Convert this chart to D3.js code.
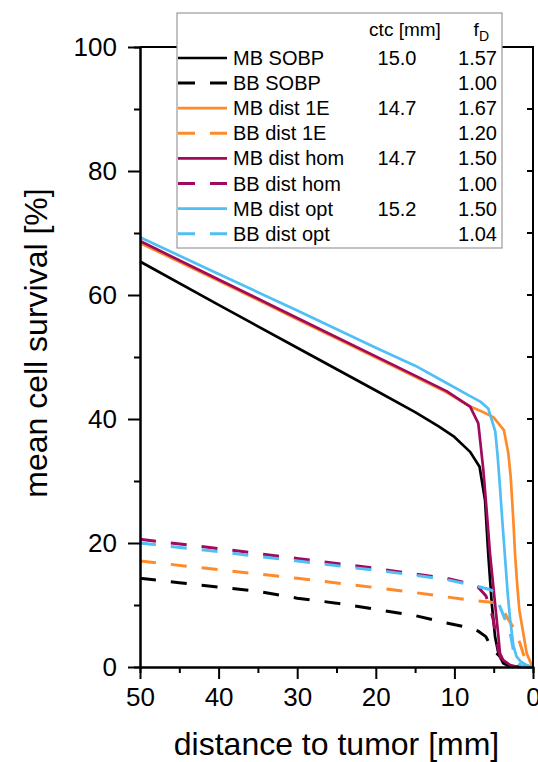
<!DOCTYPE html>
<html>
<head>
<meta charset="utf-8">
<script src="https://cdn.jsdelivr.net/npm/d3@7"></script>
<style>
  body { margin: 0; background: #fff; }
  text { font-family: "Liberation Sans", Arial, sans-serif; fill: #000; }
</style>
</head>
<body>
<svg id="chart"></svg>
<script>
const WIDTH = 538;
const HEIGHT = 762;

// plot frame in px
const LEFT = 140;
const RIGHT = 533;
const TOP = 47;
const BOTTOM = 667;

const FONT = "Liberation Sans, Arial, sans-serif";

// legend table
const seriesNames = [
  "MB SOBP", "BB SOBP", "MB dist 1E", "BB dist 1E",
  "MB dist hom", "BB dist hom", "MB dist opt", "BB dist opt"
];
const ctcValues = ["15.0", "", "14.7", "", "14.7", "", "15.2", ""];
const fdValues = ["1.57", "1.00", "1.67", "1.20", "1.50", "1.00", "1.50", "1.04"];
const seriesColors = [
  "#000000", "#000000", "#ff8a2a", "#ff8a2a",
  "#a0095c", "#a0095c", "#4fbff5", "#4fbff5"
];
const seriesDashed = [false, true, false, true, false, true, false, true];

// axis ticks
const xMajorTicks = [50, 40, 30, 20, 10, 0];
const xMinorTicks = [45, 35, 25, 15, 5];
const yMajorTicks = [0, 20, 40, 60, 80, 100];
const yMinorTicks = [10, 30, 50, 70, 90];
const yRightTicks = [10, 20, 30, 40, 50, 60, 70, 80, 90];

// [distance to tumor mm, mean cell survival %]
const mbSobp = [
  [50, 65.4], [40, 58.4], [30, 51.5], [20, 44.6], [15, 41.1], [12, 38.8],
  [10, 37.1], [8, 34.7], [6.8, 32.3], [6.1, 26.9], [5.7, 18.3], [5.25, 10.3],
  [4.83, 4.9], [4.4, 2.2], [3.8, 0.6], [3, 0.1], [0, 0]
];
const bbSobp = [
  [50, 14.3], [45, 13.6], [40, 12.9], [35, 12.2], [30, 11.1], [25, 10.3],
  [20, 9.3], [15, 8.3], [11, 7.1], [8, 6.3], [7, 5.8], [6, 4.9], [5.3, 3.2],
  [4.7, 2.3], [4.2, 1.7], [3.6, 0.7], [3, 0.1], [2.5, 0]
];
const mbDist1E = [
  [50, 68.4], [40, 62.3], [30, 56.1], [20, 49.9], [15, 46.8], [11, 44.3],
  [8, 42.0], [6.5, 41.2], [5.05, 40.3], [3.7, 38.2], [3.14, 34.5], [2.84, 30.7],
  [2.5, 23.7], [2.29, 18.3], [1.99, 13], [1.74, 9.2], [1.31, 6.0], [0.8, 2.2],
  [0.17, 0.3], [0, 0]
];
const bbDist1E = [
  [50, 17.1], [40, 15.7], [30, 14.3], [20, 12.8], [15, 12.0], [11, 11.3],
  [8, 10.8], [5, 10.4], [4.2, 9.8], [3.6, 8.7], [3, 7.4], [2.5, 6.4],
  [2.0, 4.9], [1.65, 3.8], [1.2, 2.0], [0.8, 0.6], [0.4, 0]
];
const mbDistHom = [
  [50, 68.7], [40, 62.5], [30, 56.3], [20, 50.1], [15, 47.0], [11, 44.5],
  [8, 42.0], [6.96, 39.3], [6.32, 31.8], [5.9, 25.3], [5.47, 18.3], [5.05, 13],
  [4.4, 4.9], [4.2, 2.2], [3.8, 1.1], [2.9, 0.3], [1.9, 0], [0, 0]
];
const bbDistHom = [
  [50, 20.6], [40, 19.1], [30, 17.5], [20, 15.9], [15, 15.0], [11, 14.3],
  [8, 13.4], [7, 12.9], [6, 11.5], [5.5, 9.8], [5.05, 7.6], [4.7, 5.0],
  [4.4, 2.7], [4, 1.0], [3.5, 0.2], [3, 0]
];
const mbDistOpt = [
  [50, 69.3], [40, 63.4], [30, 57.5], [20, 51.5], [15, 48.6], [11, 45.8],
  [8, 43.7], [6.7, 42.8], [5.7, 41.7], [4.8, 38.0], [4.5, 34], [4.2, 29],
  [3.9, 23.5], [3.6, 18.4], [3.2, 11.5], [2.9, 7.6], [2.5, 3.5], [2.1, 1.7],
  [1.5, 0.8], [0.8, 0.3], [0, 0]
];
const bbDistOpt = [
  [50, 20.0], [40, 18.6], [30, 17.1], [20, 15.6], [15, 14.8], [11, 14.1],
  [7, 13.0], [5.5, 12.5], [5.05, 12.2], [4.6, 11.0], [4.2, 9.7], [3.6, 7.8],
  [3.1, 6.5], [2.8, 4.8], [2.5, 2.7], [1.9, 0.6], [1.2, 0], [0, 0]
];

const seriesData = [
  mbSobp, bbSobp, mbDist1E, bbDist1E, mbDistHom, bbDistHom, mbDistOpt, bbDistOpt
];

const svg = d3.select("#chart").attr("width", WIDTH).attr("height", HEIGHT);

const x = d3.scaleLinear().domain([50, 0]).range([LEFT, RIGHT]);
const y = d3.scaleLinear().domain([0, 100]).range([BOTTOM, TOP]);

const line = d3.line()
  .x((d) => x(d[0]))
  .y((d) => y(d[1]));

// curves
svg.append("g")
  .selectAll("path")
  .data(seriesData)
  .enter()
  .append("path")
  .attr("d", line)
  .attr("fill", "none")
  .attr("stroke", (d, i) => seriesColors[i])
  .attr("stroke-width", (d, i) => (seriesDashed[i] ? 3 : 2.7))
  .attr("stroke-dasharray", (d, i) => (seriesDashed[i] ? "16,15" : null))
  .attr("stroke-linejoin", "round");

// frame: top and right
svg.append("path")
  .attr("d", `M${LEFT},${TOP}H${RIGHT}V${BOTTOM}`)
  .attr("fill", "none")
  .attr("stroke", "#000")
  .attr("stroke-width", 2);

// right side ticks point inward
svg.append("g")
  .selectAll("line")
  .data(yRightTicks)
  .enter()
  .append("line")
  .attr("x1", RIGHT)
  .attr("x2", RIGHT - 6)
  .attr("y1", (d) => y(d))
  .attr("y2", (d) => y(d))
  .attr("stroke", "#000")
  .attr("stroke-width", 2);

const styleAxis = (g) => {
  g.select(".domain").attr("stroke-width", 2);
  g.selectAll(".tick line").attr("stroke-width", 2);
  g.selectAll("text")
    .attr("font-family", FONT)
    .attr("font-size", 26)
    .attr("fill", "#000");
};

// left axis
svg.append("g")
  .attr("transform", `translate(${LEFT},0)`)
  .call(d3.axisLeft(y).tickValues(yMinorTicks).tickSize(6).tickFormat(""))
  .call(styleAxis);
svg.append("g")
  .attr("transform", `translate(${LEFT},0)`)
  .call(d3.axisLeft(y).tickValues(yMajorTicks).tickSize(12).tickPadding(11).tickSizeOuter(0))
  .call(styleAxis);

// bottom axis
svg.append("g")
  .attr("transform", `translate(0,${BOTTOM})`)
  .call(d3.axisBottom(x).tickValues(xMinorTicks).tickSize(6).tickFormat(""))
  .call(styleAxis);
svg.append("g")
  .attr("transform", `translate(0,${BOTTOM})`)
  .call(d3.axisBottom(x).tickValues(xMajorTicks).tickSize(12).tickPadding(9).tickSizeOuter(0))
  .call(styleAxis);

// axis titles
svg.append("text")
  .attr("x", (LEFT + RIGHT) / 2)
  .attr("y", 755)
  .attr("text-anchor", "middle")
  .attr("font-size", 32)
  .text("distance to tumor [mm]");

svg.append("text")
  .attr("transform", "translate(47,343) rotate(-90)")
  .attr("text-anchor", "middle")
  .attr("font-size", 32)
  .text("mean cell survival [%]");

// legend
const legend = svg.append("g").attr("id", "legend");
const legX = 177;
const legY = 13;
const rowStart = 58;
const rowStep = 25.1;

legend.append("rect")
  .attr("x", legX)
  .attr("y", legY)
  .attr("width", 325)
  .attr("height", 235)
  .attr("fill", "#fff")
  .attr("stroke", "#9a9a9a")
  .attr("stroke-width", 1.2);

legend.append("text")
  .attr("x", 405)
  .attr("y", 36)
  .attr("text-anchor", "middle")
  .attr("font-size", 19)
  .text("ctc [mm]");

const fd = legend.append("text")
  .attr("x", 489)
  .attr("y", 36)
  .attr("text-anchor", "end")
  .attr("font-size", 19);
fd.append("tspan").text("f");
fd.append("tspan").attr("dy", 5).attr("font-size", 14).text("D");

const rows = legend.selectAll(".row")
  .data(seriesNames)
  .enter()
  .append("g")
  .attr("class", "row")
  .attr("transform", (d, i) => `translate(0,${rowStart + i * rowStep})`);

rows.append("line")
  .attr("x1", 178)
  .attr("x2", 227)
  .attr("stroke", (d, i) => seriesColors[i])
  .attr("stroke-width", (d, i) => (seriesDashed[i] ? 3 : 2.7))
  .attr("stroke-dasharray", (d, i) => (seriesDashed[i] ? "17,15" : null));

rows.append("text")
  .attr("x", 233)
  .attr("y", 7)
  .attr("font-size", 20)
  .text((d) => d);

rows.append("text")
  .attr("x", 397)
  .attr("y", 7)
  .attr("text-anchor", "middle")
  .attr("font-size", 20)
  .text((d, i) => ctcValues[i]);

rows.append("text")
  .attr("x", 497)
  .attr("y", 7)
  .attr("text-anchor", "end")
  .attr("font-size", 20)
  .text((d, i) => fdValues[i]);
</script>
</body>
</html>
